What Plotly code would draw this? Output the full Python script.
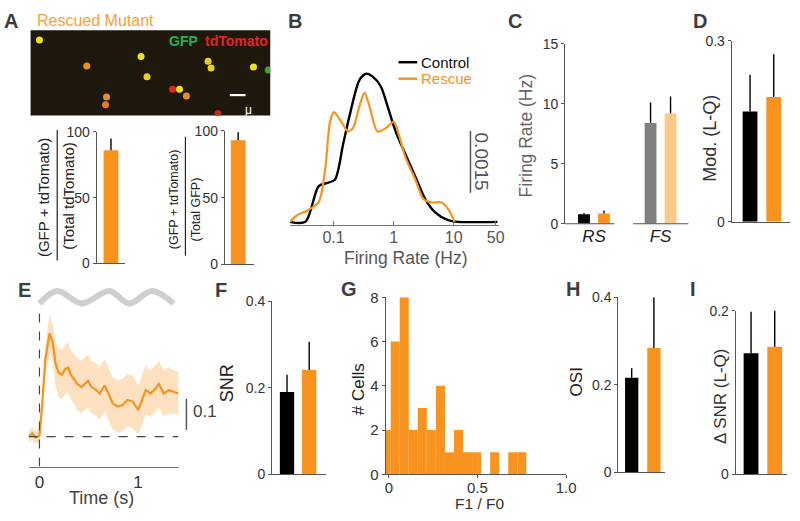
import plotly.graph_objects as go

W, H = 800, 521
FONT = "Liberation Sans, Arial, sans-serif"
ORANGE = "#F7931E"
LIGHT_ORANGE = "#FDC98A"
GRAY = "#808080"
AX = "#555555"

# ---------------- data ----------------
# A: co-labelling percentages
pct_of_tdtomato = [86]
pct_of_tdtomato_err = [9]
pct_of_gfp = [93]
pct_of_gfp_err = [6]

# A image: cell bodies (image pixel coords) and colours
cell_x = [39, 87, 142, 148, 107, 106, 174, 181, 188, 210, 213, 256, 271, 220]
cell_y = [32, 59, 49, 70, 91, 99, 83, 83, 90, 54, 61, 60, 63, 108]
cell_c = ["#e8e020", "#e8921e", "#f0e020", "#e8d020", "#e8901e", "#e87a20", "#e0281a",
          "#f0e020", "#e8901e", "#e8d020", "#e8d020", "#f0e020", "#3aa830", "#c02818"]

# B: firing-rate distributions (Hz, density)
ctrl_rate = [0.0188, 0.0339, 0.0562, 0.0767, 0.105, 0.144, 0.185, 0.270, 0.348, 0.447,
             0.612, 0.787, 1.08, 1.57, 2.30, 3.35, 4.89, 8.07, 11.8, 53.3]
ctrl_dens = [0, 0, 0.00086, 0.00094, 0.00102, 0.00188, 0.00258, 0.00344, 0.00359, 0.00352,
             0.00328, 0.00281, 0.00219, 0.00164, 0.00109, 0.00055, 0.00023, 0.00004, 0, 0]
resc_rate = [0.0188, 0.0247, 0.0361, 0.0561, 0.0721, 0.0871, 0.101, 0.135, 0.174, 0.210,
             0.270, 0.327, 0.394, 0.540, 0.740, 1.01, 1.22, 1.57, 2.30, 3.14, 4.31, 6.28,
             8.07, 10.4]
resc_dens = [0, 0.00016, 0.00027, 0.00047, 0.00125, 0.00242, 0.00266, 0.00242, 0.00219,
             0.00227, 0.00281, 0.00313, 0.00281, 0.00219, 0.00227, 0.00242, 0.00211,
             0.00156, 0.00102, 0.00055, 0.00047, 0.00047, 0.00031, 0]

# C: firing rates by cell type
cell_types = ["RS", "FS"]
rate_ctrl = [0.8, 8.4]
rate_ctrl_err = [0.1, 1.7]
rate_resc = [0.85, 9.2]
rate_resc_err = [0.25, 1.4]

# D: modulation
mod_vals = [0.183, 0.207]
mod_err = [0.061, 0.071]

# E: response time course
e_time = [-0.107, -0.073, -0.04, 0.0, 0.027, 0.06, 0.103, 0.137, 0.16, 0.193, 0.227, 0.26,
          0.293, 0.317, 0.35, 0.383, 0.427, 0.46, 0.493, 0.527, 0.56, 0.61, 0.66, 0.693,
          0.743, 0.793, 0.843, 0.893, 0.943, 1.003, 1.043, 1.077, 1.127, 1.177, 1.21, 1.26,
          1.31, 1.36, 1.41]
e_resp = [0.0, 0.01, -0.003, 0.002, 0.10, 0.25, 0.334, 0.30, 0.24, 0.207, 0.20, 0.218,
          0.223, 0.20, 0.186, 0.17, 0.16, 0.17, 0.18, 0.16, 0.155, 0.139, 0.165, 0.144,
          0.107, 0.097, 0.102, 0.118, 0.113, 0.086, 0.123, 0.15, 0.139, 0.155, 0.17, 0.139,
          0.15, 0.144, 0.139]
e_sem = [0.02, 0.02, 0.02, 0.02, 0.03, 0.05, 0.063, 0.06, 0.07, 0.08, 0.08, 0.08,
         0.08, 0.08, 0.08, 0.085, 0.085, 0.085, 0.085, 0.085, 0.085, 0.085, 0.085, 0.085,
         0.085, 0.085, 0.085, 0.085, 0.085, 0.08, 0.08, 0.08, 0.075, 0.075, 0.075, 0.075,
         0.075, 0.07, 0.07]
stim_t = [0, 0.18, 0.43, 0.71, 0.91, 1.14, 1.36]
stim_y = [0.43, 0.47, 0.43, 0.47, 0.43, 0.47, 0.43]

# F: SNR
snr_vals = [0.19, 0.241]
snr_err = [0.04, 0.065]

# G: F1/F0 histogram
g_bins = [-0.015, 0.036, 0.087, 0.138, 0.189, 0.240, 0.291, 0.342, 0.393, 0.444, 0.495,
          0.546, 0.597, 0.648, 0.699, 0.750]
g_counts = [2, 6, 8, 2, 3, 2, 4, 1, 2, 1, 1, 0, 1, 0, 1, 1]
g_bin_width = 0.051

# H: OSI
osi_vals = [0.216, 0.284]
osi_err = [0.022, 0.116]

# I: delta SNR
dsnr_vals = [0.148, 0.156]
dsnr_err = [0.051, 0.052]

# ---------------- helpers ----------------
fig = go.Figure()
axes = {}
annotations = []
shapes = []


def ref(n):
    return ("x", "y") if n == 1 else (f"x{n}", f"y{n}")


def set_axes(n, xdom, ydom, xa, ya):
    kx = "xaxis" if n == 1 else f"xaxis{n}"
    ky = "yaxis" if n == 1 else f"yaxis{n}"
    xa = dict(xa)
    ya = dict(ya)
    xa.update(domain=[xdom[0] / W, xdom[1] / W], anchor=ref(n)[1])
    ya.update(domain=[1 - ydom[1] / H, 1 - ydom[0] / H], anchor=ref(n)[0])
    axes[kx] = xa
    axes[ky] = ya


def ann(text, x, y, size, color="#333333", bold=False, angle=0, xanchor="center",
        yanchor="middle", borderpad=1):
    t = f"<b>{text}</b>" if bold else text
    annotations.append(dict(text=t, x=x / W, y=1 - y / H, xref="paper", yref="paper",
                            showarrow=False, textangle=angle, xanchor=xanchor,
                            yanchor=yanchor, borderpad=borderpad,
                            font=dict(size=size, color=color, family=FONT)))


def pline(x0, y0, x1, y1, color=AX, width=1.2, dash="solid"):
    shapes.append(dict(type="line", xref="paper", yref="paper", x0=x0 / W, x1=x1 / W,
                       y0=1 - y0 / H, y1=1 - y1 / H,
                       line=dict(color=color, width=width, dash=dash)))


def yaxis_style(rng, tv, tt, size=14):
    return dict(range=rng, tickvals=tv, ticktext=tt, showline=True, linecolor=AX,
                linewidth=1.2, ticks="outside", ticklen=3, tickcolor=AX, showgrid=False,
                zeroline=False, tickfont=dict(size=size, color="#333333", family=FONT))


def xaxis_plain(rng):
    return dict(range=rng, showline=True, linecolor=AX, linewidth=1.2, ticks="",
                showticklabels=False, showgrid=False, zeroline=False)


def bar_panel(n, xdom, ydom, yrng, tv, tt, c0, u, wpx, values, errors, colors, size=14):
    xr = [(xdom[0] - c0) / u, (xdom[1] - c0) / u]
    xr_ref, yr_ref = ref(n)
    fig.add_trace(go.Bar(
        x=list(range(len(values))), y=values, width=wpx / u,
        marker=dict(color=colors, line=dict(width=0)),
        error_y=dict(type="data", symmetric=False, array=errors,
                     arrayminus=[0] * len(values), color="black", thickness=1.4, width=0),
        xaxis=xr_ref, yaxis=yr_ref, hoverinfo="skip"))
    set_axes(n, xdom, ydom, xaxis_plain(xr), yaxis_style(yrng, tv, tt, size))


# ---------------- A: image ----------------
shapes.append(dict(type="rect", xref="paper", yref="paper", x0=30 / W, x1=273 / W,
                   y0=1 - 110 / H, y1=1 - 22 / H, fillcolor="#1e180c",
                   line=dict(width=0), layer="below"))
fig.add_trace(go.Scatter(x=cell_x, y=cell_y, mode="markers",
                         marker=dict(size=7, color=cell_c, line=dict(width=0)),
                         xaxis="x", yaxis="y", hoverinfo="skip"))
set_axes(1, (30, 273), (22, 110),
         dict(range=[30, 273], visible=False),
         dict(range=[110, 22], visible=False))
pline(232, 89, 248, 89, color="white", width=2.2)
ann("μ", 251, 104, 12, color="white")
ann("GFP", 185, 33, 14, color="#22b24c", bold=True)
ann("tdTomato", 239, 33, 14, color="#e8211d", bold=True)
ann("Rescued Mutant", 96, 12, 16, color="#F7A23A")

# A bars
bar_panel(2, (97, 126), (127, 263), [0, 100], [0, 50, 100], ["0", "50", "100"],
          111.5, 24, 15, pct_of_tdtomato, pct_of_tdtomato_err, [ORANGE])
bar_panel(3, (227, 257), (126, 264), [0, 100], [0, 50, 100], ["0", "50", "100"],
          240.5, 24, 15, pct_of_gfp, pct_of_gfp_err, [ORANGE])
ann("(GFP + tdTomato)", 43, 195, 15, color="#222222", angle=-90)
pline(57, 125, 57, 260, color="#222222", width=1.2)
ann("(Total tdTomato)", 69, 193, 15, color="#222222", angle=-90)
ann("(GFP + tdTomato)", 175, 197, 12.5, color="#222222", angle=-90)
pline(187, 132, 187, 255, color="#222222", width=1.2)
ann("(Total GFP)", 198, 207, 12.5, color="#222222", angle=-90)

# ---------------- B ----------------
fig.add_trace(go.Scatter(x=ctrl_rate, y=ctrl_dens, mode="lines",
                         line=dict(color="black", width=2.4, shape="spline", smoothing=0.8),
                         xaxis="x4", yaxis="y4", hoverinfo="skip"))
fig.add_trace(go.Scatter(x=resc_rate, y=resc_dens, mode="lines",
                         line=dict(color=ORANGE, width=2.2, shape="spline", smoothing=0.8),
                         xaxis="x4", yaxis="y4", hoverinfo="skip"))
set_axes(4, (293, 505), (40, 223),
         dict(type="log", range=[-1.726, 1.754], tickvals=[0.1, 1, 10, 50],
              ticktext=["0.1", "1", "10", "50"], showline=True, linecolor="#777777",
              linewidth=1.2, ticks="inside", ticklen=4, tickcolor="#777777",
              showgrid=False, zeroline=False, ticklabelstandoff=-2,
              tickfont=dict(size=16, color="#555555", family=FONT)),
         dict(range=[-0.00007, 0.00422], visible=False))
ann("Firing Rate (Hz)", 411, 257, 17.5, color="#555555")
pline(403, 55, 422, 55, color="black", width=2.5)
pline(403, 72, 422, 72, color=ORANGE, width=2.5)
ann("Control", 424, 55, 15, color="#111111", xanchor="left")
ann("Rescue", 424, 72, 15, color=ORANGE, xanchor="left")
pline(476, 126, 476, 190, color="#555555", width=1.5)
ann("0.0015", 487, 158, 19, color="#555555", angle=90)

# ---------------- C ----------------
xs_ctrl = [i - 0.15 for i in range(len(cell_types))]
xs_resc = [i + 0.15 for i in range(len(cell_types))]
fig.add_trace(go.Bar(x=xs_ctrl + xs_resc, y=rate_ctrl + rate_resc, width=12 / 67.5,
                     marker=dict(color=["black", GRAY, ORANGE, LIGHT_ORANGE],
                                 line=dict(width=0)),
                     error_y=dict(type="data", symmetric=False,
                                  array=rate_ctrl_err + rate_resc_err,
                                  arrayminus=[0] * 4, color="black", thickness=1.4, width=0),
                     xaxis="x5", yaxis="y5", hoverinfo="skip"))
set_axes(5, (572, 697), (36, 222),
         dict(range=[(572 - 601.25) / 67.5, (697 - 601.25) / 67.5], showline=False,
              tickvals=list(range(len(cell_types))),
              ticktext=[f"<i>{c}</i>" for c in cell_types], ticks="", showgrid=False,
              zeroline=False,
              tickfont=dict(size=17, color="#222222", family=FONT)),
         yaxis_style([0, 15], [0, 5, 10, 15], ["0", "5", "10", "15"]))
pline(572, 222, 622, 222)
pline(641, 222, 697, 222)
ann("Firing Rate (Hz)", 532, 131, 17.5, color="#666666", angle=-90)

# ---------------- D ----------------
bar_panel(6, (741, 800), (33, 220), [0, 0.3], [0, 0.3], ["0", "0.3"],
          759.5, 24, 15, mod_vals, mod_err, ["black", ORANGE])
ann("Mod. (L-Q)", 719, 134, 18, color="#333333", angle=-90)

# ---------------- E ----------------
upper = [r + s for r, s in zip(e_resp, e_sem)]
lower = [r - s for r, s in zip(e_resp, e_sem)]
fig.add_trace(go.Scatter(x=e_time + e_time[::-1], y=upper + lower[::-1], fill="toself",
                         fillcolor="rgba(247,147,30,0.28)", line=dict(width=0),
                         mode="lines", xaxis="x7", yaxis="y7", hoverinfo="skip"))
fig.add_trace(go.Scatter(x=e_time, y=e_resp, mode="lines",
                         line=dict(color=ORANGE, width=2.2),
                         xaxis="x7", yaxis="y7", hoverinfo="skip"))
fig.add_trace(go.Scatter(x=stim_t, y=stim_y, mode="lines",
                         line=dict(color="#cfcfcf", width=6, shape="spline", smoothing=1.0),
                         xaxis="x7", yaxis="y7", hoverinfo="skip"))
set_axes(7, (28, 180), (282, 473),
         dict(range=[-0.11, 1.41], tickvals=[0, 1], ticktext=["0", "1"], showline=True,
              linecolor="#777777", linewidth=1.2, ticks="", showgrid=False, zeroline=False,
              tickfont=dict(size=17, color="#333333", family=FONT)),
         dict(range=[-0.097, 0.5], visible=False))
shapes.append(dict(type="line", xref="x7", yref="y7", x0=0, x1=0, y0=-0.097, y1=0.403,
                   line=dict(color="#444444", width=1.2, dash="dash")))
shapes.append(dict(type="line", xref="x7", yref="y7", x0=-0.11, x1=1.41, y0=0, y1=0,
                   line=dict(color="#444444", width=1.2, dash="dash")))
pline(188, 403, 188, 435, color="#555555", width=1.5)
ann("0.1", 193, 416, 17, color="#444444", xanchor="left")
ann("Time (s)", 102, 505, 18, color="#444444")

# ---------------- F ----------------
bar_panel(8, (275, 330), (302, 481), [0, 0.4], [0, 0.2, 0.4], ["0", "0.2", "0.4"],
          290, 22.5, 14.5, snr_vals, snr_err, ["black", ORANGE])
ann("SNR", 230, 387, 18, color="#222222", angle=-90)

# ---------------- G ----------------
fig.add_trace(go.Bar(x=g_bins, y=g_counts, width=g_bin_width,
                     marker=dict(color=ORANGE, line=dict(width=0)),
                     xaxis="x9", yaxis="y9", hoverinfo="skip"))
set_axes(9, (390, 573), (298, 481),
         dict(range=[-0.018, 1.0], tickvals=[0, 0.5, 1.0], ticktext=["0", "0.5", "1.0"],
              showline=True, linecolor=AX, linewidth=1.2, ticks="outside", ticklen=3,
              tickcolor=AX, showgrid=False, zeroline=False, ticklabelstandoff=-3,
              tickfont=dict(size=15, color="#333333", family=FONT)),
         yaxis_style([0, 8], [0, 2, 4, 6, 8], ["0", "2", "4", "6", "8"], size=15))
ann("# Cells", 362, 393, 17, color="#222222", angle=-90)
ann("F1 / F0", 485, 511, 15.5, color="#333333")

# ---------------- H ----------------
bar_panel(10, (626, 673), (298, 479), [0, 0.4], [0, 0.2, 0.4], ["0", "0.2", "0.4"],
          639.5, 22.5, 13.5, osi_vals, osi_err, ["black", ORANGE])
ann("OSI", 583, 385, 17, color="#222222", angle=-90)

# ---------------- I ----------------
bar_panel(11, (745, 797), (312, 481), [0, 0.2], [0, 0.2], ["0", "0.2"],
          760.5, 24, 15, dsnr_vals, dsnr_err, ["black", ORANGE])
ann("Δ SNR (L-Q)", 730, 400, 17, color="#333333", angle=-90)

# ---------------- panel letters ----------------
for letter, lx in [("A", 10), ("B", 298), ("C", 521), ("D", 709)]:
    ann(letter, lx, 0, 20, color="#3d3d3d", bold=True, yanchor="top", borderpad=0)
for letter, lx, ly in [("E", 24, 290), ("F", 223, 290), ("G", 353, 289),
                       ("H", 580, 289), ("I", 702, 289)]:
    ann(letter, lx, ly, 20, color="#3d3d3d", bold=True)

fig.update_layout(width=W, height=H, margin=dict(l=0, r=0, t=0, b=0),
                  paper_bgcolor="white", plot_bgcolor="rgba(0,0,0,0)",
                  showlegend=False, barmode="overlay",
                  font=dict(family=FONT, color="#333333"),
                  annotations=annotations, shapes=shapes, **axes)

fig.write_html("out.html", config={"displayModeBar": False},
               post_script="document.body.style.margin='0px';")
